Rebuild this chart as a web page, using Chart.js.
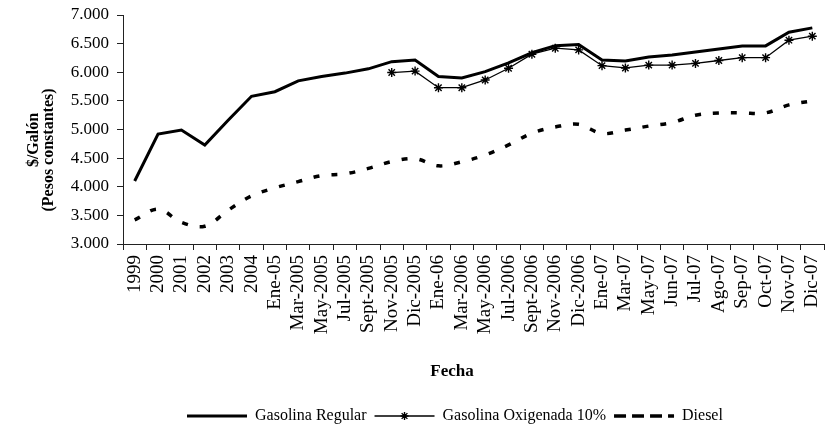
<!DOCTYPE html>
<html>
<head>
<meta charset="utf-8">
<script src="https://cdn.jsdelivr.net/npm/chart.js@4/dist/chart.umd.min.js"></script>
<style>
  html, body { margin: 0; padding: 0; background: #fff; }
  #wrap { width: 835px; height: 427px; position: relative; }
</style>
</head>
<body>
<div id="wrap"><canvas id="c" width="835" height="427"></canvas></div>
<script>
const categories = ['1999','2000','2001','2002','2003','2004','Ene-05','Mar-2005','May-2005','Jul-2005','Sept-2005','Nov-2005','Dic-2005','Ene-06','Mar-2006','May-2006','Jul-2006','Sept-2006','Nov-2006','Dic-2006','Ene-07','Mar-07','May-07','Jun-07','Jul-07','Ago-07','Sep-07','Oct-07','Nov-07','Dic-07'];

const gasolinaRegular = [4100, 4920, 4990, 4730, 5160, 5580, 5660, 5850, 5925, 5985, 6060, 6185, 6215, 5925, 5900, 6010, 6165, 6340, 6465, 6485, 6215, 6195, 6265, 6300, 6355, 6405, 6460, 6460, 6700, 6775];

const gasolinaOxigenada = [null, null, null, null, null, null, null, null, null, null, null, 5995, 6020, 5730, 5730, 5865, 6070, 6315, 6420, 6390, 6115, 6075, 6125, 6125, 6155, 6205, 6255, 6255, 6560, 6630];

const diesel = [3420, 3610, 3380, 3310, 3590, 3840, 3980, 4090, 4195, 4225, 4320, 4440, 4490, 4365, 4435, 4555, 4730, 4935, 5045, 5090, 4930, 4990, 5060, 5120, 5250, 5290, 5290, 5290, 5430, 5500];

const seriesNames = ['Gasolina Regular', 'Gasolina Oxigenada 10%', 'Diesel'];
const yTicksMin = 3000, yTicksMax = 7000, yTicksStep = 500;
const xTitle = 'Fecha';
const yTitleLines = ['$/Galón', '(Pesos constantes)'];

const FONT = "'Liberation Serif', 'Times New Roman', serif";

const customDraw = {
  id: 'customDraw',
  afterLayout(chart) {
    const lg = chart.legend;
    if (!lg) return;
    const h = lg.height;
    lg.left = 179; lg.right = 835; lg.width = 835 - 179;
    lg.top = 400; lg.bottom = 400 + h;
  },
  afterDraw(chart) {
    const ctx = chart.ctx;
    ctx.save();
    ctx.fillStyle = '#000';
    // x axis title
    ctx.font = 'bold 17px ' + FONT;
    ctx.textAlign = 'center';
    ctx.textBaseline = 'middle';
    ctx.fillText(xTitle, 452, 372);
    // y axis title (rotated)
    ctx.save();
    ctx.rotate(-Math.PI / 2);
    ctx.font = 'bold 16px ' + FONT;
    ctx.fillText(yTitleLines[0], -140, 34);
    ctx.fillText(yTitleLines[1], -150, 49);
    ctx.restore();
    // asterisk marker in the legend sample of the oxygenated series
    const lg = chart.legend;
    if (lg && lg.legendHitBoxes && lg.legendItems) {
      const idx = lg.legendItems.findIndex(it => it.text === seriesNames[1]);
      const hb = lg.legendHitBoxes[idx];
      if (hb) {
        const cx = hb.left + 30, cy = hb.top + 8;
        const r = 4;
        ctx.strokeStyle = '#000';
        ctx.lineWidth = 1.4;
        ctx.beginPath();
        ctx.moveTo(cx - r, cy); ctx.lineTo(cx + r, cy);
        ctx.moveTo(cx, cy - r); ctx.lineTo(cx, cy + r);
        const d = r * 0.72;
        ctx.moveTo(cx - d, cy - d); ctx.lineTo(cx + d, cy + d);
        ctx.moveTo(cx - d, cy + d); ctx.lineTo(cx + d, cy - d);
        ctx.stroke();
      }
    }
    ctx.restore();
  }
};

new Chart(document.getElementById('c'), {
  type: 'line',
  data: {
    labels: categories,
    datasets: [
      {
        label: seriesNames[0],
        data: gasolinaRegular,
        borderColor: '#000',
        backgroundColor: 'transparent',
        borderWidth: 3,
        pointRadius: 0,
        tension: 0
      },
      {
        label: seriesNames[1],
        data: gasolinaOxigenada,
        borderColor: '#000',
        backgroundColor: 'transparent',
        borderWidth: 1.3,
        pointStyle: 'star',
        pointRadius: 4.5,
        pointBorderWidth: 1.4,
        pointBorderColor: '#000',
        tension: 0,
        spanGaps: false
      },
      {
        label: seriesNames[2],
        data: diesel,
        borderColor: '#000',
        backgroundColor: 'transparent',
        borderWidth: 3.5,
        borderDash: [6, 12],
        pointRadius: 0,
        tension: 0.35
      }
    ]
  },
  options: {
    responsive: false,
    animation: false,
    devicePixelRatio: 1,
    layout: { padding: { left: 0, right: 11, top: 15, bottom: 0 } },
    plugins: {
      legend: {
        display: true,
        position: 'bottom',
        align: 'start',
        labels: {
          boxWidth: 60,
          boxHeight: 0,
          padding: 8,
          color: '#000',
          font: { family: FONT, size: 16 }
        }
      },
      tooltip: { enabled: false },
      title: { display: false }
    },
    scales: {
      x: {
        type: 'category',
        offset: true,
        grid: { offset: true, drawOnChartArea: false, drawTicks: true, tickLength: 6, color: '#222' },
        border: { display: true, color: '#222', width: 1 },
        ticks: {
          autoSkip: false,
          maxRotation: 90,
          minRotation: 90,
          padding: 5,
          color: '#000',
          font: { family: FONT, size: 19 }
        },
        afterFit(scale) {
          scale.height = 427 - 244 - 34;
          scale.paddingLeft = 0; scale.paddingRight = 0;
        }
      },
      y: {
        min: yTicksMin,
        max: yTicksMax,
        grid: { drawOnChartArea: false, drawTicks: true, tickLength: 6, color: '#222' },
        border: { display: true, color: '#222', width: 1 },
        ticks: {
          stepSize: yTicksStep,
          padding: 8,
          color: '#000',
          font: { family: FONT, size: 17 },
          callback: (v) => (v / 1000).toFixed(3)
        },
        afterFit(scale) {
          scale.width = 123;
          scale.paddingTop = 0; scale.paddingBottom = 0;
        }
      }
    }
  },
  plugins: [customDraw]
});
</script>
</body>
</html>
